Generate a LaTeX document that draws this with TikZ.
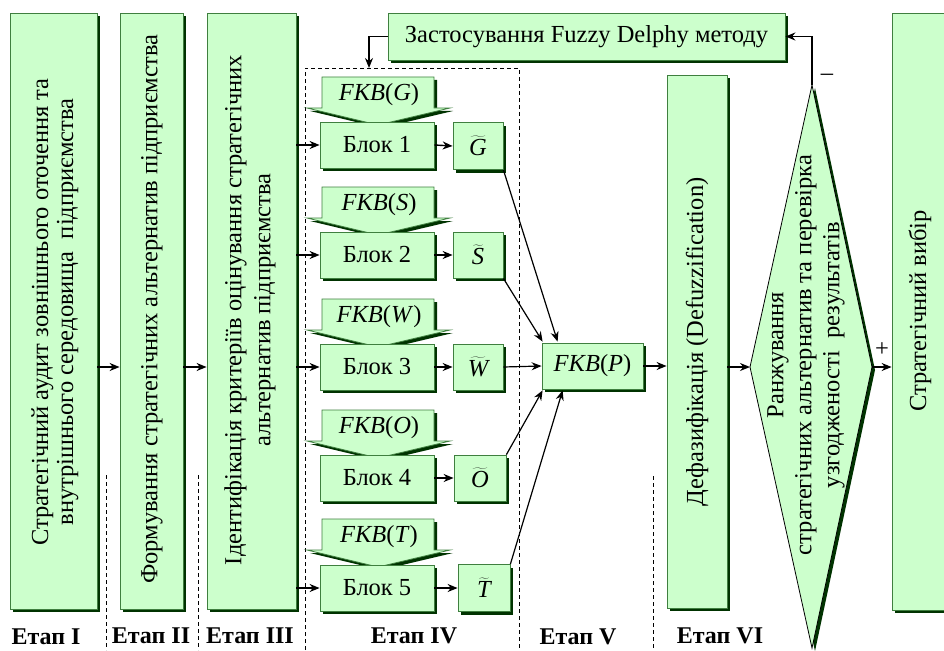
\documentclass[tikz,border=0pt]{standalone}
\usepackage{fontspec}
\setmainfont{Liberation Serif}
\usetikzlibrary{arrows.meta,shadows,calc}
\definecolor{lg}{HTML}{CCFFCC}
\definecolor{bd}{HTML}{3F7F3F}
\definecolor{sh}{HTML}{003300}
\newcommand{\tld}[1]{$\widetilde{\hbox{\itshape #1}}$}
\newcommand{\fkbtxt}[1]{\textit{FKB}(\textit{#1})}
\begin{document}
\begin{tikzpicture}[x=1pt,y=-1pt,
  shd/.style={drop shadow={shadow xshift=3pt,shadow yshift=-3pt,fill=sh,opacity=1}},
  box/.style={draw=bd,fill=lg,line width=0.8pt,inner sep=0pt,shd},
  txt/.style={font=\fontsize{24.5}{27}\selectfont,align=center,inner sep=0pt},
  vtxt/.style={txt,rotate=90},
  stage/.style={font=\fontsize{24}{26}\selectfont\bfseries,inner sep=0pt},
  arr/.style={line width=1.4pt,-{Stealth[length=10pt,width=8pt]}},
  ln/.style={line width=1.2pt,-{Stealth[length=10pt,width=8pt]}},
  dsh/.style={line width=0.8pt,dash pattern=on 4pt off 3pt},
  fkbshape/.style={draw=bd,fill=lg,line width=0.8pt,shd},
  kite/.style={draw=black,fill=lg,line width=0.8pt,shd}
]
\useasboundingbox (0,0) rectangle (944,650);

% dashed separators
\draw[dsh] (305,650) |- (519,68) -- (519,650);
\draw[dsh] (106,475) -- (106,650);
\draw[dsh] (198,475) -- (198,650);
\draw[dsh] (653,476) -- (653,650);

% tall boxes
\node[box,minimum width=87pt,minimum height=596pt] (b1) at (53.5,311) {};
\node[vtxt,font=\fontsize{24.5}{25}\selectfont] (t1) at (55,312) {Стратегічний аудит зовнішнього оточення та\\внутрішнього середовища \ підприємства};
\node[box,minimum width=63pt,minimum height=596pt] (b2) at (151.5,311) {};
\node[vtxt] (t2) at (152,309) {Формування стратегічних альтернатив підприємства};
\node[box,minimum width=89pt,minimum height=596pt] (b3) at (251.5,311) {};
\node[vtxt,font=\fontsize{24.5}{29}\selectfont] (t3) at (250,310) {Ідентифікація критеріїв оцінування стратегічних\\альтернатив підприємства};
\node[box,minimum width=60pt,minimum height=533pt] (df) at (697,341.5) {};
\node[vtxt] (tdf) at (697,342) {Дефазифікація (Defuzzification)};
\node[box,minimum width=58pt,minimum height=597pt] (fin) at (921,311.5) {};
\node[vtxt] (tfin) at (920,311) {Стратегічний вибір};

% fuzzy delphy
\node[box,minimum width=397pt,minimum height=47pt,txt] (fz) at (586.5,36.5) {Застосування Fuzzy Delphy методу};

% FKB shapes
\newcommand{\fkbarrow}[3]{%
  \path[fkbshape] (322,{#1-45}) -- (434,{#1-45}) -- (434,{#1-14}) -- (450,{#1-14})
     -- (378,{#1+3}) -- (307,{#1-14}) -- (322,{#1-14}) -- cycle;
  \node[txt] (#2) at (379,{#1-27}) {\fkbtxt{#3}};}
\fkbarrow{122}{kG}{G}
\fkbarrow{232}{kS}{S}
\fkbarrow{344}{kW}{W}
\fkbarrow{455}{kO}{O}
\fkbarrow{564}{kT}{T}

% blocks
\node[box,txt,minimum width=114pt,minimum height=46pt] (B1) at (377,145) {Блок 1};
\node[box,txt,minimum width=114pt,minimum height=46pt] (B2) at (377,255) {Блок 2};
\node[box,txt,minimum width=114pt,minimum height=46pt] (B3) at (377,367) {Блок 3};
\node[box,txt,minimum width=114pt,minimum height=46pt] (B4) at (377,478) {Блок 4};
\node[box,txt,minimum width=114pt,minimum height=46pt] (B5) at (377,588) {Блок 5};

\node[box,txt,minimum width=50pt,minimum height=47pt] (G) at (478,146) {\tld{G}};
\node[box,txt,minimum width=50pt,minimum height=46pt] (S) at (478,255) {\tld{S}};
\node[box,txt,minimum width=50pt,minimum height=46pt] (W) at (478,367) {\tld{W}};
\node[box,txt,minimum width=52pt,minimum height=46pt] (O) at (480,478) {\tld{O}};
\node[box,txt,minimum width=52pt,minimum height=47pt] (T) at (484,588) {\tld{T}};

\node[box,txt,minimum width=101pt,minimum height=46pt] (P) at (592.5,366) {\fkbtxt{P}};

% kite
\coordinate (dT) at (812,85);
\coordinate (dL) at (750,367);
\coordinate (dR) at (872,367);
\coordinate (dB) at (812,648);
\path[kite] (dT) -- (dR) -- (dB) -- (dL) -- cycle;
\node[vtxt,font=\fontsize{24.5}{28}\selectfont] (tdm) at (806,355) {Ранжування\\стратегічних альтернатив та перевірка\\узгодженості \ результатів};

% arrows
\draw[arr] (b1.east |- B3) -- (b2.west |- B3);
\draw[arr] (b2.east |- B3) -- (b3.west |- B3);
\foreach \n in {B1,B2,B3,B5} \draw[arr] (b3.east |- \n) -- (\n.west);
\draw[arr] (B1.east) -- (G.west);
\draw[arr] (B2.east) -- (S.west);
\draw[arr] (B3.east) -- (W.west);
\draw[arr] (B4.east) -- (O.west);
\draw[arr] (B5.east) -- (T.west);
\draw[ln] (G.south east) -- ($(P.north west)+(16,-1)$);
\draw[ln] (S.south east) -- ($(P.north west)+(1,-1)$);
\draw[ln] (W.east) -- (P.west);
\draw[ln] (O.north east) -- ($(P.south west)+(1,1)$);
\draw[ln] (T.north east) -- ($(P.south west)+(21,1)$);
\draw[arr] (P.east) -- (df.west |- P);
\draw[arr] (df.east |- dL) -- (dL);
\draw[arr] (dR) -- (fin.west |- dR);
\coordinate (dtop) at (369,68);
\draw[arr] (fz.west) -| (dtop);
\draw[arr] (dT) |- (fz.east);
\node[txt] (minus) at (827,77) {–};
\node[txt] (plus) at (882,350) {+};

% stage labels
\node[stage] (s1) at (46,637) {Етап I};
\node[stage] (s2) at (151,636) {Етап II};
\node[stage] (s3) at (250,636) {Етап III};
\node[stage] (s4) at (414,636) {Етап IV};
\node[stage] (s5) at (578,637) {Етап V};
\node[stage] (s6) at (720,636) {Етап VI};
\end{tikzpicture}
\end{document}
